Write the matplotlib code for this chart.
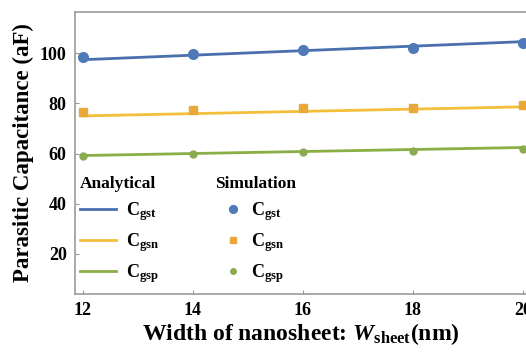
import numpy as np
import matplotlib
matplotlib.use('Agg')
import matplotlib.pyplot as plt
from matplotlib.lines import Line2D

plt.rcParams['font.family'] = 'Liberation Serif'
plt.rcParams['font.weight'] = 'bold'
plt.rcParams['axes.labelweight'] = 'bold'
plt.rcParams['mathtext.fontset'] = 'custom'
plt.rcParams['mathtext.rm'] = 'Liberation Serif:bold'
plt.rcParams['mathtext.it'] = 'Liberation Serif:italic:bold'
plt.rcParams['mathtext.bf'] = 'Liberation Serif:bold'

# data
w_sheet = [12, 14, 16, 18, 20]
sim_gst = [98.6, 99.8, 101.2, 102.2, 104.2]
sim_gsn = [76.4, 77.4, 78.0, 78.2, 79.2]
sim_gsp = [59.0, 59.8, 60.6, 61.2, 62.0]
# analytical lines (end points)
ana_x = [12, 20]
ana_gst = [97.4, 104.6]
ana_gsn = [75.0, 78.6]
ana_gsp = [59.2, 62.4]

names = ['gst', 'gsn', 'gsp']
line_cols = ['#4a6fae', '#f3bf3a', '#8aae45']
mark_cols = ['#4f7ab8', '#e9a83a', '#8bab50']
markers = ['o', 's', 'o']
msizes = [7, 6, 5]

fig = plt.figure(figsize=(5.26, 3.54), dpi=100)
ax = fig.add_axes([0.1426, 0.1695, 0.8574, 0.7965])

for ya, ys, lc, mc, m, ms in zip([ana_gst, ana_gsn, ana_gsp], [sim_gst, sim_gsn, sim_gsp],
                                  line_cols, mark_cols, markers, msizes):
    ax.plot(ana_x, ya, color=lc, lw=2)
    ax.plot(w_sheet, ys, ls='none', marker=m, ms=ms, color=mc)

ax.set_xlim(11.855, 20.055)
ax.set_ylim(4, 116.4)
ax.set_xticks([12, 14, 16, 18, 20])
ax.set_yticks([20, 40, 60, 80, 100])
ax.tick_params(direction='in', length=3, color='#999999', labelsize=13, pad=6)
for s in ['left', 'bottom', 'top']:
    ax.spines[s].set_color('#999999')
    ax.spines[s].set_linewidth(1.2)
ax.spines['right'].set_visible(False)

ax.set_xlabel(r'Width of nanosheet: $\mathit{W}_{\mathrm{sheet}}$(nm)', fontsize=17, labelpad=1)
ax.set_ylabel('Parasitic Capacitance (aF)', fontsize=16.5, labelpad=4)

lab = [r'C$_{\mathrm{%s}}$' % n for n in names]
h1 = [Line2D([], [], color=c, lw=2) for c in line_cols]
h2 = [Line2D([], [], ls='none', marker=m, ms=ms * 0.8, color=c)
      for m, ms, c in zip(markers, msizes, mark_cols)]
leg1 = ax.legend(h1, lab, title='Analytical', loc='upper left', bbox_to_anchor=(-0.01, 0.45),
                 frameon=False, fontsize=13, title_fontsize=12.5, handlelength=2.0,
                 labelspacing=0.45, borderaxespad=0.1, handletextpad=0.6)
leg1._legend_box.align = 'left'
ax.add_artist(leg1)
leg2 = ax.legend(h2, lab, title='Simulation', loc='upper left', bbox_to_anchor=(0.29, 0.45),
                 frameon=False, fontsize=13, title_fontsize=12.5, handlelength=2.0,
                 labelspacing=0.45, borderaxespad=0.1, handletextpad=0.0)
leg2._legend_box.align = 'left'

fig.savefig('out.png', dpi=100)
